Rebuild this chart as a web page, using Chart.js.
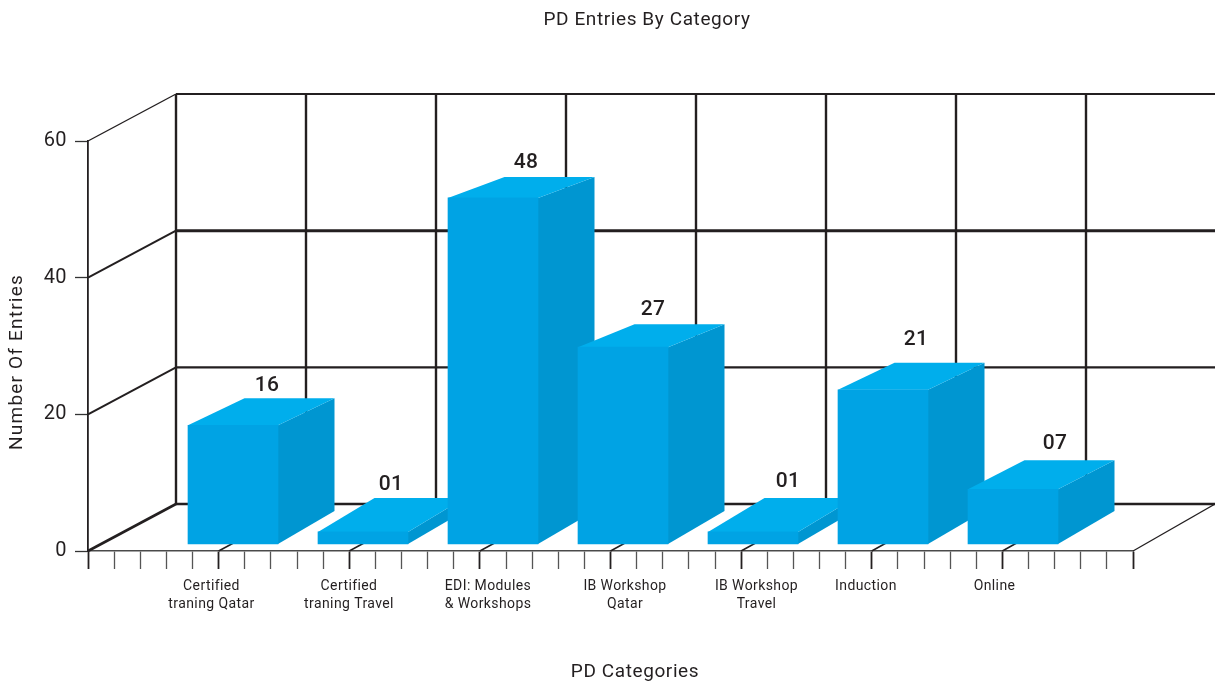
<!DOCTYPE html>
<html><head><meta charset="utf-8">
<style>html,body{margin:0;padding:0;background:#fff}canvas{display:block}</style>
<script src="https://cdn.jsdelivr.net/npm/chart.js@4"></script>
</head><body><canvas id="c" width="1215" height="684"></canvas>
<script>
const categories = [["Certified","traning Qatar"],["Certified","traning Travel"],["EDI: Modules","& Workshops"],["IB Workshop","Qatar"],["IB Workshop","Travel"],["Induction"],["Online"]];
const entries = [16,1,48,27,1,21,7];
const yTicks = [0,20,40,60];
const chartTitle = "PD Entries By Category";
const xTitle = "PD Categories";
const yTitle = "Number Of Entries";

// presentation constants
const FONT = "Roboto";
const INK = "#231f20";
const FRONT = "#00a3e4", SIDE = "#0096d1", TOP = "#00aeec";
const DEPTH_X = 88, DEPTH_Y = 47;
const BAR_DX = 56.5, BAR_BOTTOM_DY = 33;
const topDepth = [27,34,21,23,34,27,29];
const labelShift = [-21.5,-14,-5,2,3.5,-17,-18.5];
const valueDx = [34,28,33,30,35,33,42];
const valueDy = [12.8,13.4,14.4,14.6,16.4,23.3,16.8];
const UNIT = 130;
const XMIN = (88-233)/UNIT, XMAX = (1133-233)/UNIT;
const PX_PER = 7.106;
const BAR_MIN = (539-551)/PX_PER, BAR_MAX = (539-141)/PX_PER, BAR_BASE = (539-544)/PX_PER;

const box3d = {
  id:"box3d",
  beforeDraw(chart){ chart.ctx.letterSpacing = "0.4px"; },
  beforeDatasetsDraw(chart){
    const {ctx} = chart, x = chart.scales.x, y = chart.scales.y;
    const line = (a,b,c,d,w,col)=>{ctx.beginPath();ctx.moveTo(a,b);ctx.lineTo(c,d);ctx.lineWidth=w;ctx.strokeStyle=col||INK;ctx.stroke();};
    ctx.save();
    const y0 = y.getPixelForValue(0), y60 = y.getPixelForValue(60);
    // back wall
    const wallW = {0:2.4,20:2.4,40:3,60:2};
    yTicks.forEach(t=>{
      const p = y.getPixelForValue(t);
      line(x.left+DEPTH_X,p-DEPTH_Y,chart.width,p-DEPTH_Y,wallW[t]);
      line(x.left,p,x.left+DEPTH_X,p-DEPTH_Y,t===0?2.6:(t===60?1.4:2));
    });
    for(let k=0;k<8;k++){
      const bx = x.getPixelForValue(XMIN+(DEPTH_X/UNIT)+k);
      line(bx,y60-DEPTH_Y,bx,y0-DEPTH_Y,2.4);
      if(k>0){
        const fx = x.left+k*5*(x.right-x.left)/40;
        line(fx,y0,bx,y0-DEPTH_Y,1.5);
      }
    }
    // floor right edge
    line(x.right,y0,chart.width,y0-DEPTH_Y,1.3);
    // side and top faces
    chart.getDatasetMeta(0).data.forEach((bar,i)=>{
      const L=bar.x-bar.width/2, R=bar.x+bar.width/2, T=bar.y, B=bar.base, d=topDepth[i];
      ctx.fillStyle=SIDE;ctx.beginPath();
      ctx.moveTo(R,T);ctx.lineTo(R+BAR_DX,T-d);ctx.lineTo(R+BAR_DX,B-BAR_BOTTOM_DY);ctx.lineTo(R,B);ctx.closePath();ctx.fill();
      ctx.fillStyle=TOP;ctx.beginPath();
      ctx.moveTo(L,T);ctx.lineTo(L+BAR_DX,T-d);ctx.lineTo(R+BAR_DX,T-d);ctx.lineTo(R,T);ctx.closePath();ctx.fill();
    });
    ctx.restore();
  },
  afterDatasetsDraw(chart){
    const {ctx} = chart;
    ctx.save();
    ctx.fillStyle=INK;ctx.textAlign="center";ctx.textBaseline="middle";
    ctx.font=`500 21px ${FONT}`;
    chart.getDatasetMeta(0).data.forEach((bar,i)=>{
      ctx.fillText(String(entries[i]).padStart(2,"0"),bar.x+valueDx[i],bar.y-topDepth[i]-valueDy[i]);
    });
    ctx.font=`19px ${FONT}`;
    ctx.letterSpacing="0.6px";
    ctx.fillText(chartTitle,647,20);
    ctx.fillText(xTitle,635,672);
    ctx.translate(17,362);ctx.rotate(-Math.PI/2);
    ctx.letterSpacing="1.2px";
    ctx.fillText(yTitle,0,0);
    ctx.restore();
  }
};

new Chart(document.getElementById("c"),{
  type:"bar",
  plugins:[box3d],
  data:{datasets:[{
    data:entries.map((v,i)=>({x:i,y:v})),
    xAxisID:"x",yAxisID:"yb",
    backgroundColor:FRONT,barThickness:90,borderWidth:0,base:BAR_BASE
  }]},
  options:{
    responsive:false,animation:false,devicePixelRatio:1,
    layout:{padding:{top:141,right:82,left:0,bottom:0}},
    plugins:{legend:{display:false},title:{display:false},tooltip:{enabled:false}},
    scales:{
      x:{type:"linear",position:"bottom",min:XMIN,max:XMAX,weight:0,offset:false,
        afterBuildTicks(s){s.ticks=Array.from({length:41},(_,k)=>({value:XMIN+k*(XMAX-XMIN)/40}));},
        afterFit(s){s.height=18;},
        ticks:{display:false},
        border:{display:true,color:"#4a4a4a",width:1.6},
        grid:{offset:false,drawOnChartArea:false,drawTicks:true,tickLength:18,
          tickWidth:c=>c.index%5===0?1.8:1.3,
          tickColor:c=>c.index%5===0?INK:"#555"}
      },
      xl:{type:"linear",position:"bottom",min:XMIN,max:XMAX,weight:1,offset:false,
        afterBuildTicks(s){s.ticks=categories.map((_,i)=>({value:i+labelShift[i]/UNIT}));},
        afterFit(s){s.height=115;},
        border:{display:false},grid:{display:false,offset:false},
        ticks:{autoSkip:false,maxRotation:0,minRotation:0,padding:0,color:INK,
          font:{family:FONT,size:14,lineHeight:1.29},
          callback:(v,i)=>categories[i]}
      },
      y:{type:"linear",position:"left",min:0,max:60,
        afterBuildTicks(s){s.ticks=yTicks.map(v=>({value:v}));},
        afterFit(s){s.width=88;},
        border:{display:true,color:INK,width:1.8},
        grid:{drawOnChartArea:false,drawTicks:true,tickLength:13,tickWidth:1.3,tickColor:"#333"},
        ticks:{padding:8,color:INK,font:{family:FONT,size:20}}
      },
      yb:{type:"linear",display:false,position:"left",min:BAR_MIN,max:BAR_MAX}
    }
  }
});
</script></body></html>
